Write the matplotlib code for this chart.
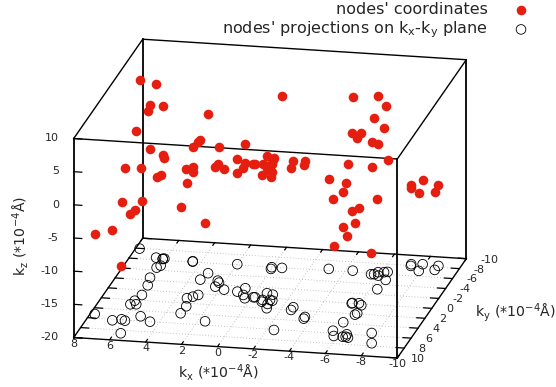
import numpy as np
import matplotlib
matplotlib.use('Agg')
import matplotlib.pyplot as plt
from mpl_toolkits.mplot3d import proj3d

# node coordinates
nodes_kx = [7.78, 6.57, 6.15, 5.99, 6.17, 6.09, 6.16, 6.17, 6.03, 3.22, 5.90, 4.52, 5.89, 5.22, 3.20,
            4.48, 4.47, 3.16, 2.94, 3.40, 2.29, 0.68, 2.00, 0.98, 2.34, 2.43, 1.76, 0.54, 0.34, 6.12,
            5.94, 6.21, 6.11, 1.60, 6.58, 7.75, 5.65, 3.42, 3.16, -0.52, -4.39, -5.80, -6.49, -5.66, -6.12,
            -5.57, -6.13, -6.21, -7.71, -8.09, -5.50, -6.39, -5.94, -6.30, -6.62, -3.05, -6.46, -6.30, -5.56, -5.55,
            -5.93, -6.14, -5.80, -6.43, -5.80, -7.27, -7.31, -7.88, -7.92, -8.78, -8.73, -0.08, -0.17, -0.69, -0.67,
            -2.39, -0.66, -1.09, 0.03, 0.05, -1.22, -1.20, -1.07, -1.02, -2.58, -2.56, -3.56, -3.56]
nodes_ky = [-7.95, -6.42, -2.48, -0.98, -6.25, -6.32, -6.25, -4.49, -4.93, -4.04, 2.82, 6.02, 6.13, 5.09, 4.02,
            -6.17, -6.09, 0.66, 0.27, -2.71, -2.36, -1.60, -6.14, -0.85, -1.54, -2.73, -1.07, -0.28, 0.34, 5.90,
            0.96, 2.90, 2.15, 5.27, 6.21, 5.21, 8.61, 1.04, 2.60, -5.97, -6.31, -6.31, -4.92, -5.88, -6.39,
            -0.07, 0.27, 1.86, 5.49, 7.47, -5.84, -3.02, -5.66, -6.49, 6.68, -6.35, 6.52, 6.56, 5.52, 0.03,
            -0.09, 2.16, 3.77, 6.04, 6.53, -8.26, -7.93, -8.40, -7.06, -8.27, -7.45, 0.04, 0.02, 0.79, 0.45,
            6.10, -0.90, 1.16, -5.64, -5.98, 0.47, 2.00, 0.36, -0.70, 1.48, 2.03, 3.21, 3.56]
nodes_kz = [5.39, 6.19, 6.03, 6.32, 3.02, -4.82, -4.37, -6.28, -6.33, 3.97, 6.12, 6.03, 2.97, 2.31, -4.02,
            -5.83, -6.43, 2.61, 3.06, 1.01, 0.50, 1.80, -4.17, -2.15, -1.96, -2.41, -1.85, -0.90, 0.35, -2.36,
            -5.87, -6.43, -6.33, -5.14, -6.34, -7.94, -9.85, -2.57, 0.65, 5.97, 6.14, 6.62, 6.19, 3.61, 1.80,
            5.58, 6.02, 6.38, 8.79, 6.53, -16.83, -6.34, -0.10, -3.16, 6.19, -6.43, 3.22, 1.81, -0.10, -6.03,
            -5.68, -6.13, -5.63, -5.18, -6.39, -8.00, -8.29, -7.29, -8.29, -7.74, -8.20, 0.05, 0.10, -0.90, 0.50,
            5.93, 0.65, 0.20, -6.13, -5.59, 0.61, 1.11, 0.35, 0.31, 2.05, 1.45, 3.47, 3.12]

kx_ticks = [8, 6, 4, 2, 0, -2, -4, -6, -8, -10]
ky_ticks = [-10, -8, -6, -4, -2, 0, 2, 4, 6, 8, 10]
kz_ticks = [-20, -15, -10, -5, 0, 5, 10]

kx_min, kx_max = -10, 8
ky_min, ky_max = -10, 10
kz_min, kz_max = -20, 10

TEXT = '#262626'

fig = plt.figure(figsize=(5.56, 3.87), dpi=100)
side = 387 / 556
ax = fig.add_axes([0.1, 0, side, 1], projection='3d', computed_zorder=False)
ax.set_proj_type('ortho')
ax.view_init(elev=17.57, azim=101.85)
ax.set_xlim(kx_min, kx_max, view_margin=0)
ax.set_ylim(ky_min, ky_max, view_margin=0)
ax.set_zlim(kz_min, kz_max, view_margin=0)
ax.set_box_aspect((330.6, 336.1, 208.7))
ax.set_axis_off()

# grid on the base plane
for x in kx_ticks[1:-1]:
    ax.plot([x, x], [ky_min, ky_max], [kz_min, kz_min], color='#b0b0b0', lw=0.6, ls=(0, (1, 2.5)), zorder=1)
for y in ky_ticks[1:-1]:
    ax.plot([kx_min, kx_max], [y, y], [kz_min, kz_min], color='#b0b0b0', lw=0.6, ls=(0, (1, 2.5)), zorder=1)

# the box
for z in (kz_min, kz_max):
    ax.plot([kx_max, kx_min, kx_min, kx_max, kx_max], [ky_max, ky_max, ky_min, ky_min, ky_max], [z] * 5,
            color='black', lw=1.0, zorder=2)
for x, y in [(kx_max, ky_max), (kx_max, ky_min), (kx_min, ky_max), (kx_min, ky_min)]:
    ax.plot([x, x], [y, y], [kz_min, kz_max], color='black', lw=1.3, zorder=2)

# tick marks
for x in kx_ticks:
    ax.plot([x, x], [ky_max, ky_max - 0.5], [kz_min, kz_min], color='black', lw=0.9, zorder=2)
    ax.plot([x, x], [ky_min, ky_min + 0.5], [kz_min, kz_min], color='black', lw=0.9, zorder=2)
for y in ky_ticks:
    ax.plot([kx_min, kx_min + 0.45], [y, y], [kz_min, kz_min], color='black', lw=0.9, zorder=2)
    ax.plot([kx_max, kx_max - 0.45], [y, y], [kz_min, kz_min], color='black', lw=0.9, zorder=2)
for z in kz_ticks:
    ax.plot([kx_max, kx_max - 0.45], [ky_max, ky_max], [z, z], color='black', lw=0.9, zorder=2)

proj_marks = ax.scatter(nodes_kx, nodes_ky, [kz_min] * len(nodes_kx), s=48, facecolors='none', edgecolors='black',
                        linewidths=0.6, depthshade=False, zorder=3)
node_marks = ax.scatter(nodes_kx, nodes_ky, nodes_kz, s=48, c='#e51e10', linewidths=0, depthshade=False, zorder=4)

# scale the axes so the box lands where it sits in the reference
fig.canvas.draw()
pos = ax.get_position()
M = ax.get_proj()
def to_display(x, y, z):
    px, py, _ = proj3d.proj_transform(x, y, z, M)
    return ax.transData.transform((px, py))
a = to_display(kx_max, ky_max, kz_min)
b = to_display(kx_min, ky_min, kz_max)
w_px = pos.width * 556
scale = (466.3 - 73.7) / (b[0] - a[0])
fa = (a - np.array([pos.x0 * 556, pos.y0 * 387])) / w_px
w_new = w_px * scale
left = 73.7 - w_new * fa[0]
bottom = (387 - 337.5) - w_new * fa[1]
ax.set_position([left / 556, bottom / 387, w_new / 556, w_new / 387])

# tick labels go on the figure, at the projected tick positions
def tick_label(x, y, z, label, ha):
    px, py = to_display(x, y, z)
    fig.text(px / 556, py / 387, str(label), ha=ha, va='center', fontsize=8, color=TEXT)

for x in kx_ticks:
    tick_label(x, ky_max, kz_min - 0.95, x, 'center')
for y in ky_ticks:
    tick_label(kx_min - 0.78, y, kz_min, y, 'left')
for z in kz_ticks:
    tick_label(kx_max + 0.83, ky_max, z - 0.1, z, 'right')

fig.text(21 / 556, 1 - 236 / 387, r'k$_\mathrm{z}$ (*10$^{\mathrm{-4}}$Å)', rotation=90, ha='center', va='center',
         fontsize=10.2, color=TEXT)
fig.text(218 / 556, 1 - 373 / 387, r'k$_\mathrm{x}$ (*10$^{\mathrm{-4}}$Å)', ha='center', va='center',
         fontsize=10.2, color=TEXT)
fig.text(515 / 556, 1 - 313 / 387, r'k$_\mathrm{y}$ (*10$^{\mathrm{-4}}$Å)', ha='center', va='center',
         fontsize=10.2, color=TEXT)

fig.legend([node_marks, proj_marks],
           ["nodes' coordinates", r"nodes' projections on k$_\mathrm{x}$-k$_\mathrm{y}$ plane"],
           loc='upper right', bbox_to_anchor=(529 / 556, 1 - 2 / 387), frameon=False, markerfirst=False,
           scatterpoints=1, handlelength=1, handletextpad=1.56, borderpad=0, borderaxespad=0, labelspacing=0.17,
           fontsize=11.5, labelcolor=TEXT)

plt.savefig('out.png', dpi=100)
